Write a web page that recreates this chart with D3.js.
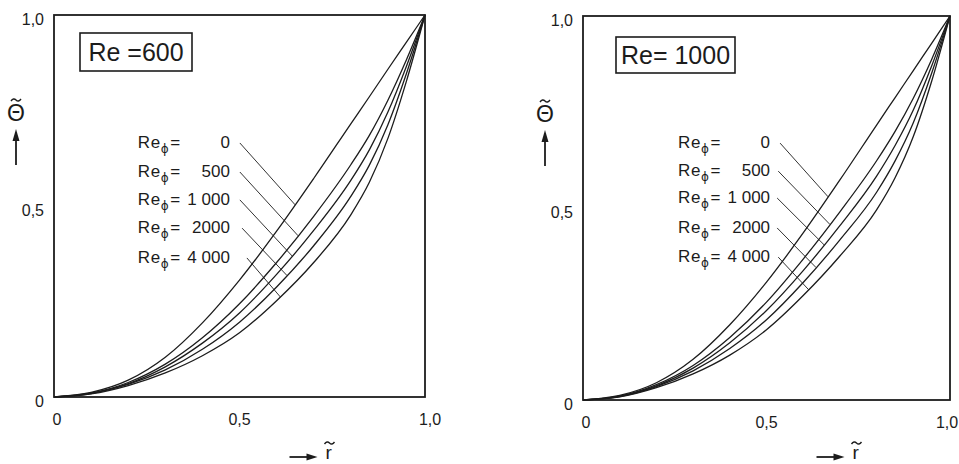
<!DOCTYPE html>
<html>
<head>
<meta charset="utf-8">
<script src="https://cdn.jsdelivr.net/npm/d3@7"></script>
<style>
  body { margin: 0; background: #fff; }
  svg { display: block; font-family: "Liberation Sans", Arial, sans-serif; }
</style>
</head>
<body>
<svg id="chart" width="959" height="464"></svg>
<script>
// dimensionless radius r~ (same grid for every curve)
const rValues = [0, 0.1, 0.2, 0.3, 0.4, 0.5, 0.6, 0.7, 0.8, 0.85, 0.9, 0.95, 1];

const rePhiLabels = ['0', '500', '1 000', '2000', '4 000'];

// theta~ for Re = 600, one row per Re_phi (0, 500, 1000, 2000, 4000)
const theta600 = [
  [0, 0.012, 0.044, 0.104, 0.194, 0.306, 0.434, 0.572, 0.715, 0.786, 0.858, 0.929, 1],
  [0, 0.010, 0.038, 0.086, 0.155, 0.244, 0.352, 0.473, 0.608, 0.685, 0.777, 0.883, 1],
  [0, 0.010, 0.035, 0.079, 0.141, 0.220, 0.321, 0.436, 0.567, 0.647, 0.746, 0.866, 1],
  [0, 0.009, 0.033, 0.071, 0.125, 0.196, 0.288, 0.396, 0.525, 0.607, 0.713, 0.847, 1],
  [0, 0.008, 0.030, 0.063, 0.108, 0.168, 0.252, 0.352, 0.477, 0.562, 0.677, 0.827, 1]
];

// theta~ for Re = 1000
const theta1000 = [
  [0, 0.012, 0.045, 0.106, 0.196, 0.307, 0.435, 0.573, 0.716, 0.787, 0.858, 0.929, 1],
  [0, 0.010, 0.040, 0.090, 0.163, 0.255, 0.367, 0.490, 0.623, 0.699, 0.786, 0.887, 1],
  [0, 0.010, 0.037, 0.083, 0.149, 0.233, 0.337, 0.454, 0.583, 0.662, 0.755, 0.870, 1],
  [0, 0.009, 0.035, 0.076, 0.134, 0.209, 0.306, 0.417, 0.541, 0.622, 0.722, 0.851, 1],
  [0, 0.008, 0.032, 0.068, 0.117, 0.183, 0.272, 0.375, 0.495, 0.578, 0.686, 0.830, 1]
];

// leader lines from the labels to the curves, [r, theta]
const leaderStart600 = [[0.501, 0.665], [0.501, 0.589], [0.501, 0.516], [0.507, 0.442], [0.520, 0.364]];
const leaderEnd600 = [[0.650, 0.503], [0.658, 0.422], [0.642, 0.369], [0.628, 0.318], [0.610, 0.262]];
const leaderStart1000 = [[0.537, 0.669], [0.532, 0.596], [0.529, 0.526], [0.529, 0.448], [0.532, 0.372]];
const leaderEnd1000 = [[0.668, 0.529], [0.673, 0.457], [0.657, 0.404], [0.635, 0.345], [0.615, 0.287]];

const tickValues = [0, 0.5, 1];
const tickLabels = ['0', '0,5', '1,0'];

const ink = '#1c1c1c';
const svg = d3.select('#chart');

const panels = [
  { title: 'Re =600', left: 54, top: 15, w: 371, h: 382, theta: theta600,
    ls: leaderStart600, le: leaderEnd600, box: [26, 18, 112, 38], lastTickDx: 5 },
  { title: 'Re= 1000', left: 583, top: 16, w: 367, h: 384, theta: theta1000,
    ls: leaderStart1000, le: leaderEnd1000, box: [33, 21, 119, 36], lastTickDx: -3 }
];

function tilde(g, cx, cy) {
  g.append('path')
    .attr('d', `M${cx - 5},${cy + 1} q2.5,-3.5 5,-1 t5,-1`)
    .attr('fill', 'none').attr('stroke', ink).attr('stroke-width', 1.4);
}

panels.forEach(p => {
  const g = svg.append('g').attr('transform', `translate(${p.left},${p.top})`);
  const x = d3.scaleLinear().domain([0, 1]).range([0, p.w]);
  const y = d3.scaleLinear().domain([0, 1]).range([p.h, 0]);

  // curves
  const line = d3.line()
    .x((d, i) => x(rValues[i]))
    .y(d => y(d))
    .curve(d3.curveMonotoneX);

  g.selectAll('path.curve')
    .data(p.theta)
    .join('path')
    .attr('class', 'curve')
    .attr('d', line)
    .attr('fill', 'none')
    .attr('stroke', ink)
    .attr('stroke-width', 1.3);

  // leaders
  g.selectAll('line.leader')
    .data(p.ls)
    .join('line')
    .attr('class', 'leader')
    .attr('x1', d => x(d[0]))
    .attr('y1', d => y(d[1]))
    .attr('x2', (d, i) => x(p.le[i][0]))
    .attr('y2', (d, i) => y(p.le[i][1]))
    .attr('stroke', ink)
    .attr('stroke-width', 0.9);

  // legend labels
  const lx = x(p.ls[0][0]);
  p.ls.forEach((d, i) => {
    const by = y(p.ls[i][1]) + 5;
    const t = g.append('text')
      .attr('x', lx - 102).attr('y', by)
      .attr('font-size', 17).attr('letter-spacing', 0.6).attr('fill', ink);
    t.append('tspan').text('Re');
    t.append('tspan').attr('dy', 5).attr('font-size', 12)
      .attr('font-family', '"DejaVu Sans", sans-serif').text('\u03D5');
    t.append('tspan').attr('dy', -5).attr('dx', 1).text('=');
    g.append('text')
      .attr('x', lx - 10).attr('y', by)
      .attr('text-anchor', 'end')
      .attr('font-size', 17).attr('fill', ink)
      .text(rePhiLabels[i]);
  });

  // frame
  g.append('rect')
    .attr('x', x(0)).attr('y', y(1))
    .attr('width', x(1) - x(0)).attr('height', y(0) - y(1))
    .attr('fill', 'none').attr('stroke', ink).attr('stroke-width', 1.8);

  // Re box
  const [bx, by, bw, bh] = p.box;
  g.append('rect')
    .attr('x', bx).attr('y', by).attr('width', bw).attr('height', bh)
    .attr('fill', 'none').attr('stroke', ink).attr('stroke-width', 1.6);
  g.append('text')
    .attr('x', bx + bw / 2).attr('y', by + bh / 2 + 9)
    .attr('text-anchor', 'middle')
    .attr('font-size', 25).attr('fill', ink)
    .text(p.title);

  // tick labels
  g.selectAll('text.ytick')
    .data(tickValues)
    .join('text')
    .attr('class', 'ytick')
    .attr('x', -10)
    .attr('y', d => y(d) + 10)
    .attr('text-anchor', 'end')
    .attr('font-size', 16).attr('fill', ink)
    .text((d, i) => tickLabels[i]);

  g.selectAll('text.xtick')
    .data(tickValues)
    .join('text')
    .attr('class', 'xtick')
    .attr('x', d => x(d) + (d === 0 ? 3 : d === 1 ? p.lastTickDx : 0))
    .attr('y', p.h + 28)
    .attr('text-anchor', 'middle')
    .attr('font-size', 16).attr('fill', ink)
    .text((d, i) => tickLabels[i]);

  // y axis label with arrow
  const ax = -38;
  g.append('text')
    .attr('x', ax).attr('y', 106)
    .attr('text-anchor', 'middle')
    .attr('font-size', 23).attr('fill', ink)
    .text('\u0398');
  tilde(g, ax, 85);
  g.append('line')
    .attr('x1', ax).attr('x2', ax).attr('y1', 150).attr('y2', 122)
    .attr('stroke', ink).attr('stroke-width', 1.8);
  g.append('path')
    .attr('d', `M${ax},114 L${ax - 3.5},126 L${ax + 3.5},126 Z`)
    .attr('fill', ink);

  // x axis label with arrow
  const arY = 457 - p.top;
  const arX = x(0.5) + 50;
  g.append('line')
    .attr('x1', arX).attr('x2', arX + 20).attr('y1', arY).attr('y2', arY)
    .attr('stroke', ink).attr('stroke-width', 1.8);
  g.append('path')
    .attr('d', `M${arX + 28},${arY} L${arX + 17},${arY - 3.5} L${arX + 17},${arY + 3.5} Z`)
    .attr('fill', ink);
  g.append('text')
    .attr('x', arX + 36).attr('y', arY + 2)
    .attr('font-size', 19).attr('fill', ink)
    .text('r');
  tilde(g, arX + 40, arY - 14);
});
</script>
</body>
</html>
